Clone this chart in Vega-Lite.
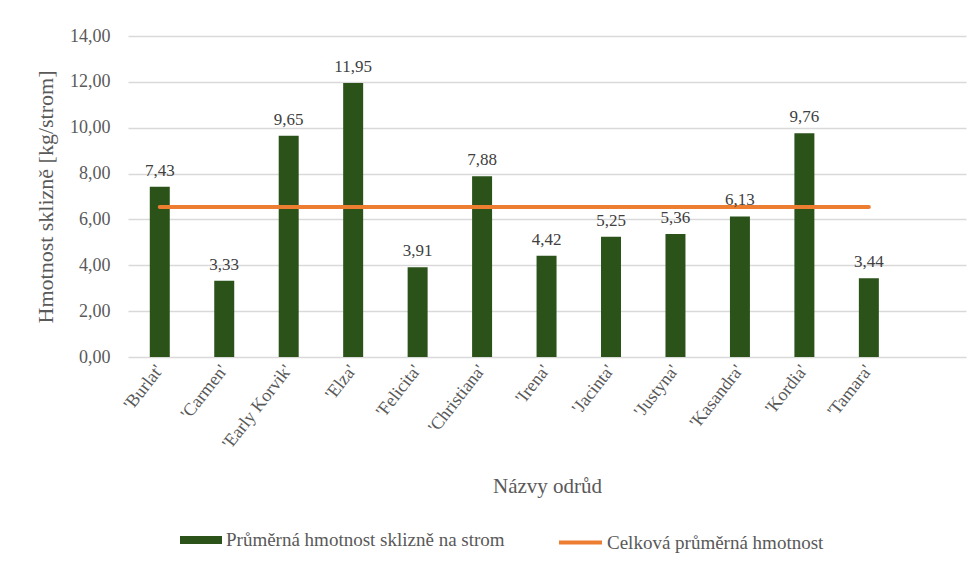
{
  "$schema": "https://vega.github.io/schema/vega-lite/v6.json",
  "width": 838,
  "height": 321,
  "autosize": {"type": "none"},
  "padding": {"left": 128, "top": 36, "right": 14, "bottom": 205},
  "background": "white",
  "config": {
    "view": {"stroke": null},
    "font": "Liberation Serif",
    "locale": {"number": {"decimal": ",", "thousands": " ", "grouping": [3], "currency": ["", " Kč"]}}
  },
  "data": {
    "values": [
      {"odruda": "'Burlat'", "hmotnost": 7.43, "prumer": 6.54},
      {"odruda": "'Carmen'", "hmotnost": 3.33, "prumer": 6.54},
      {"odruda": "'Early Korvik'", "hmotnost": 9.65, "prumer": 6.54},
      {"odruda": "'Elza'", "hmotnost": 11.95, "prumer": 6.54},
      {"odruda": "'Felicita'", "hmotnost": 3.91, "prumer": 6.54},
      {"odruda": "'Christiana'", "hmotnost": 7.88, "prumer": 6.54},
      {"odruda": "'Irena'", "hmotnost": 4.42, "prumer": 6.54},
      {"odruda": "'Jacinta'", "hmotnost": 5.25, "prumer": 6.54},
      {"odruda": "'Justyna'", "hmotnost": 5.36, "prumer": 6.54},
      {"odruda": "'Kasandra'", "hmotnost": 6.13, "prumer": 6.54},
      {"odruda": "'Kordia'", "hmotnost": 9.76, "prumer": 6.54},
      {"odruda": "'Tamara'", "hmotnost": 3.44, "prumer": 6.54}
    ]
  },
  "encoding": {
    "x": {
      "field": "odruda",
      "type": "nominal",
      "sort": null,
      "scale": {"paddingInner": 0.69, "paddingOuter": 0.845, "align": 0.2},
      "axis": {
        "title": "Názvy odrůd",
        "titleFont": "Liberation Serif",
        "titleFontSize": 21,
        "titleFontWeight": "normal",
        "titleColor": "#595959",
        "titleBaseline": "alphabetic",
        "titleY": 135,
        "labelAngle": -52,
        "labelAlign": "right",
        "labelBaseline": "middle",
        "labelPadding": 10,
        "labelLimit": 300,
        "labelFont": "Liberation Serif",
        "labelFontSize": 18,
        "labelColor": "#595959",
        "ticks": false,
        "domain": false,
        "grid": false
      }
    }
  },
  "layer": [
    {
      "mark": {"type": "bar"},
      "encoding": {
        "y": {
          "field": "hmotnost",
          "type": "quantitative",
          "scale": {"domain": [0, 14], "nice": false},
          "axis": {
            "title": "Hmotnost sklizně [kg/strom]",
            "titleFont": "Liberation Serif",
            "titleFontSize": 22,
            "titleFontWeight": "normal",
            "titleColor": "#595959",
            "titlePadding": 12,
            "format": ".2f",
            "values": [0, 2, 4, 6, 8, 10, 12, 14],
            "labelFont": "Liberation Serif",
            "labelFontSize": 18,
            "labelColor": "#595959",
            "labelPadding": 18,
            "ticks": false,
            "domain": false,
            "grid": true,
            "gridColor": "#D9D9D9",
            "gridWidth": 1.3
          }
        },
        "fill": {
          "datum": "Průměrná hmotnost sklizně na strom",
          "scale": {"range": ["#2A5219"]},
          "legend": {
            "title": null,
            "orient": "none",
            "legendX": 52,
            "legendY": 483,
            "padding": 0,
            "symbolType": "M-1,-0.19H1V0.19H-1Z",
            "symbolSize": 1764,
            "symbolStrokeWidth": 0,
            "labelFont": "Liberation Serif",
            "labelFontSize": 19,
            "labelColor": "#595959",
            "labelOffset": 4,
            "labelLimit": 400
          }
        }
      }
    },
    {
      "mark": {"type": "line", "strokeWidth": 4, "strokeCap": "round"},
      "encoding": {
        "y": {"field": "prumer", "type": "quantitative"},
        "stroke": {
          "datum": "Celková průměrná hmotnost",
          "scale": {"range": ["#ED7D31"]},
          "legend": {
            "title": null,
            "orient": "none",
            "legendX": 429,
            "legendY": 483,
            "padding": 0,
            "symbolType": "stroke",
            "symbolSize": 1849,
            "symbolStrokeWidth": 4,
            "labelFont": "Liberation Serif",
            "labelFontSize": 19,
            "labelColor": "#595959",
            "labelOffset": 3,
            "labelLimit": 400
          }
        }
      }
    },
    {
      "mark": {"type": "text", "baseline": "alphabetic", "dy": -11, "font": "Liberation Serif", "fontSize": 17, "color": "#404040"},
      "encoding": {
        "y": {"field": "hmotnost", "type": "quantitative"},
        "text": {"field": "hmotnost", "type": "quantitative", "format": ".2f"}
      }
    }
  ]
}
